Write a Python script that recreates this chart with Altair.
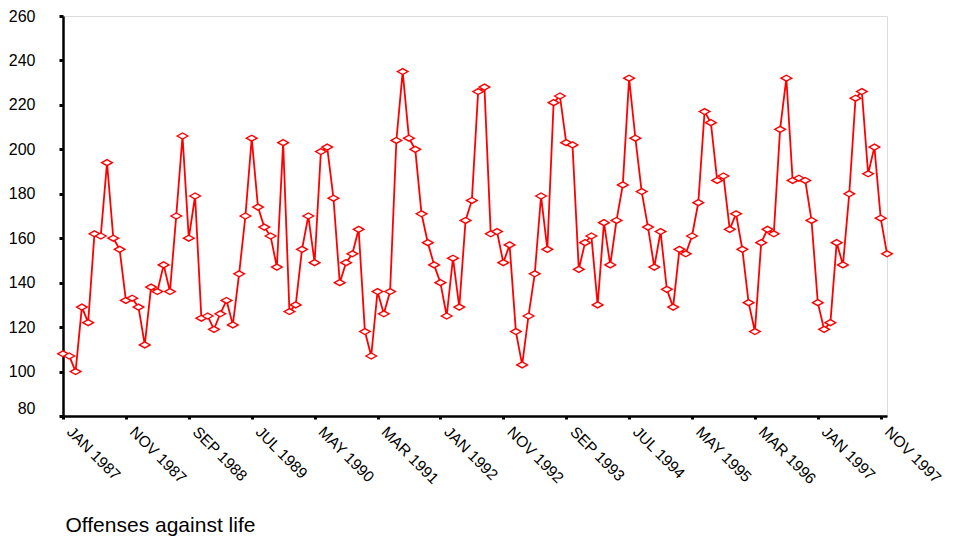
import altair as alt
import pandas as pd

# Monthly counts, Jan 1987 .. Dec 1997
values = [
    108, 107, 100, 129, 122, 162, 161, 194, 160, 155,
    132, 133, 129, 112, 138, 136, 148, 136, 170, 206,
    160, 179, 124, 125, 119, 126, 132, 121, 144, 170,
    205, 174, 165, 161, 147, 203, 127, 130, 155, 170,
    149, 199, 201, 178, 140, 149, 153, 164, 118, 107,
    136, 126, 136, 204, 235, 205, 200, 171, 158, 148,
    140, 125, 151, 129, 168, 177, 226, 228, 162, 163,
    149, 157, 118, 103, 125, 144, 179, 155, 221, 224,
    203, 202, 146, 158, 161, 130, 167, 148, 168, 184,
    232, 205, 181, 165, 147, 163, 137, 129, 155, 153,
    161, 176, 217, 212, 186, 188, 164, 171, 155, 131,
    118, 158, 164, 162, 209, 232, 186, 187, 186, 168,
    131, 119, 122, 158, 148, 180, 223, 226, 189, 201,
    169, 153,
]
month_index = list(range(len(values)))

tick_labels = [
    "JAN 1987", "NOV 1987", "SEP 1988", "JUL 1989", "MAY 1990",
    "MAR 1991", "JAN 1992", "NOV 1992", "SEP 1993", "JUL 1994",
    "MAY 1995", "MAR 1996", "JAN 1997", "NOV 1997",
]
tick_step = 10
tick_positions = [i * tick_step for i in range(len(tick_labels))]
y_ticks = [80, 100, 120, 140, 160, 180, 200, 220, 240, 260]

df = pd.DataFrame({"m": month_index, "v": values})

label_expr = "[" + ",".join("'" + s + "'" for s in tick_labels) + "][round(datum.value/%d)]" % tick_step

FONT = "Liberation Sans"
RED = "#ff0000"

x_enc = alt.X(
    "m:Q",
    scale=alt.Scale(domain=[0, len(values) - 1], nice=False, zero=False),
    axis=alt.Axis(
        values=tick_positions,
        labelExpr=label_expr,
        labelAngle=45,
        labelAlign="left",
        labelBaseline="middle",
        labelOffset=6,
        labelPadding=10,
        labelFontSize=15.5,
        labelFont=FONT,
        labelColor="black",
        labelOverlap=False,
        labelBound=False,
        tickSize=3,
        tickWidth=3,
        tickColor="black",
        domainColor="black",
        domainWidth=2.5,
        grid=False,
        title="Offenses against life",
        titleFont=FONT,
        titleFontSize=21,
        titleFontWeight="normal",
        titleColor="black",
        titleAlign="left",
        titleBaseline="alphabetic",
        titleX=2,
        titleY=115,
    ),
)

y_enc = alt.Y(
    "v:Q",
    scale=alt.Scale(domain=[80, 260], nice=False, zero=False),
    axis=alt.Axis(
        values=y_ticks,
        labelFontSize=16,
        labelFont=FONT,
        labelColor="black",
        labelPadding=24,
        labelBaseline={"condition": {"test": "datum.value == 80", "value": "bottom"}, "value": "middle"},
        tickSize=4,
        tickWidth=3,
        tickColor="black",
        domainColor="black",
        domainWidth=2.5,
        grid=False,
        title=None,
    ),
)

line = alt.Chart(df).mark_line(color=RED, strokeWidth=1.8).encode(x=x_enc, y=y_enc)

points = alt.Chart(df).mark_point(
    shape="M-1,0L0,-0.56L1,0L0,0.56Z",
    size=114,
    filled=True,
    fill="white",
    stroke=RED,
    strokeWidth=1.4,
    opacity=1,
).encode(x=x_enc, y=y_enc)

chart = (
    alt.layer(line, points)
    .properties(
        width=824,
        height=400,
        autosize=alt.AutoSizeParams(type="none"),
        padding={"left": 55, "top": 8, "right": 58, "bottom": 122},
    )
    .configure_view(stroke="black", strokeWidth=1)
    .configure(background="white")
)

chart.save("out.html", embed_options={"renderer": "svg", "actions": False})
